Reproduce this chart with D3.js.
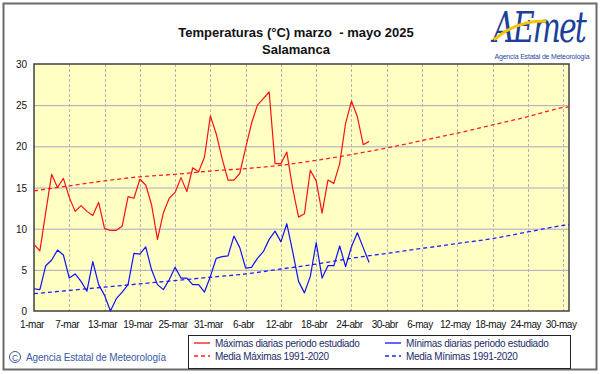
<!DOCTYPE html>
<html>
<head>
<meta charset="utf-8">
<script src="https://cdn.jsdelivr.net/npm/d3@7"></script>
<style>
  body { margin: 0; background: #fff; }
  svg { display: block; font-family: "Liberation Sans", Arial, sans-serif; }
</style>
</head>
<body>
<svg id="vis" width="601" height="374"></svg>
<script>
// daily values from 1-mar (index 0)
const maxDaily = [8.1, 7.3, 12.0, 16.6, 15.0, 16.1, 13.8, 12.1, 12.8, 12.1, 11.6, 13.2, 10.0, 9.8, 9.8, 10.3,
  13.9, 13.7, 16.0, 15.3, 12.9, 8.7, 11.9, 13.7, 14.4, 16.2, 14.5, 17.4, 16.9, 18.7, 23.7, 21.5, 18.5, 15.9,
  15.9, 16.7, 19.8, 22.8, 25.0, 25.8, 26.6, 17.9, 17.9, 19.3, 14.9, 11.4, 11.8, 17.1, 15.8, 11.9, 15.9, 15.5,
  17.9, 22.8, 25.5, 23.6, 20.2, 20.6];
const minDaily = [2.7, 2.6, 5.5, 6.2, 7.4, 6.8, 4.0, 4.5, 3.6, 2.4, 6.0, 3.2, 1.9, 0.0, 1.5, 2.3,
  3.2, 7.0, 6.9, 7.8, 5.0, 3.2, 2.6, 3.8, 5.3, 4.0, 4.0, 3.2, 3.2, 2.3, 4.2, 6.4, 6.6, 6.7,
  9.1, 7.7, 5.2, 5.3, 6.4, 7.2, 8.7, 9.7, 8.4, 10.6, 7.2, 3.6, 2.2, 4.2, 8.3, 4.0, 5.5, 5.5,
  7.9, 5.4, 7.8, 9.5, 7.7, 5.9];

// 1991-2020 normals, read every 6 days (same days as the ticks) plus the last day
const normalDays = [0, 6, 12, 18, 24, 30, 36, 42, 48, 54, 60, 66, 72, 78, 84, 90, 91];
const normalMax = [14.6, 15.2, 15.8, 16.3, 16.6, 17.0, 17.3, 17.7, 18.3, 19.0, 19.8, 20.7, 21.6, 22.6, 23.6, 24.7, 24.8];
const normalMin = [2.1, 2.5, 2.9, 3.3, 3.7, 4.1, 4.5, 5.1, 5.7, 6.4, 7.0, 7.6, 8.2, 8.8, 9.6, 10.4, 10.5];

const tickDays = [0, 6, 12, 18, 24, 30, 36, 42, 48, 54, 60, 66, 72, 78, 84, 90];
const tickLabels = ['1-mar', '7-mar', '13-mar', '19-mar', '25-mar', '31-mar', '6-abr', '12-abr', '18-abr',
  '24-abr', '30-abr', '6-may', '12-may', '18-may', '24-may', '30-may'];
const yTicks = [0, 5, 10, 15, 20, 25, 30];

const vis = d3.select('#vis');

const x = d3.scaleLinear().domain([0, 91]).range([34, 569]);
const y = d3.scaleLinear().domain([0, 30]).range([311, 64]);

// outer frame
vis.append('rect')
  .attr('x', 3.5).attr('y', 3.5).attr('width', 593).attr('height', 366)
  .attr('fill', '#fff').attr('stroke', '#6a6a6a').attr('stroke-width', 2);

// title
vis.append('text')
  .attr('x', 296).attr('y', 37).attr('text-anchor', 'middle')
  .attr('font-size', 13).attr('font-weight', 'bold').attr('fill', '#111')
  .style('white-space', 'pre')
  .text('Temperaturas (°C) marzo  - mayo 2025');
vis.append('text')
  .attr('x', 296).attr('y', 54).attr('text-anchor', 'middle')
  .attr('font-size', 13).attr('font-weight', 'bold').attr('fill', '#111')
  .text('Salamanca');

// logo
const logo = vis.append('g');
logo.append('text')
  .attr('transform', 'translate(493,42) scale(1,1.4)')
  .attr('font-family', '"DejaVu Serif", serif').attr('font-style', 'italic')
  .attr('font-size', 30).attr('fill', '#1d3f9a').attr('letter-spacing', -2)
  .text('AEmet');
logo.append('path')
  .attr('d', 'M495,39 C510,26 528,21 545,21')
  .attr('fill', 'none').attr('stroke', '#f5c400').attr('stroke-width', 3).attr('stroke-linecap', 'round');
logo.append('text')
  .attr('x', 542).attr('y', 59).attr('text-anchor', 'middle')
  .attr('font-size', 7).attr('fill', '#2a4aa0').attr('letter-spacing', -0.2)
  .text('Agencia Estatal de Meteorología');

// plot background
vis.append('rect')
  .attr('x', x(0)).attr('y', y(30)).attr('width', x(91) - x(0)).attr('height', y(0) - y(30))
  .attr('fill', '#ffffc4');

// horizontal grid
vis.selectAll('line.hgrid').data(yTicks.slice(1, -1)).enter()
  .append('line').classed('hgrid', true)
  .attr('x1', x(0)).attr('x2', x(91))
  .attr('y1', d => y(d) + 0.5).attr('y2', d => y(d) + 0.5)
  .attr('stroke', '#a8a8c0').attr('stroke-width', 1);

// vertical grid
vis.selectAll('line.vgrid').data(tickDays.slice(1)).enter()
  .append('line').classed('vgrid', true)
  .attr('x1', d => Math.round(x(d)) + 0.5).attr('x2', d => Math.round(x(d)) + 0.5)
  .attr('y1', y(30)).attr('y2', y(0))
  .attr('stroke', '#b4b4b4').attr('stroke-width', 1).attr('stroke-dasharray', '3,2');

// plot border
vis.append('rect')
  .attr('x', x(0)).attr('y', y(30)).attr('width', x(91) - x(0)).attr('height', y(0) - y(30))
  .attr('fill', 'none').attr('stroke', '#404040').attr('stroke-width', 1.5);

// y labels
vis.selectAll('text.ylab').data(yTicks).enter()
  .append('text').classed('ylab', true)
  .attr('x', 27).attr('y', d => y(d) + 4).attr('text-anchor', 'end')
  .attr('font-size', 10).attr('fill', '#111')
  .text(d => d);

// x labels
vis.selectAll('text.xlab').data(tickDays).enter()
  .append('text').classed('xlab', true)
  .attr('x', d => x(d) - 2).attr('y', 328).attr('text-anchor', 'middle')
  .attr('font-size', 10).attr('letter-spacing', -0.45).attr('fill', '#111')
  .text((d, i) => tickLabels[i]);

const dailyLine = d3.line().x((d, i) => x(i)).y(d => y(d));
const normalLine = d3.line().x((d, i) => x(normalDays[i])).y(d => y(d)).curve(d3.curveMonotoneX);

vis.append('path').datum(normalMax)
  .attr('d', normalLine).attr('fill', 'none')
  .attr('stroke', '#ff2020').attr('stroke-width', 1.3).attr('stroke-dasharray', '4,3');
vis.append('path').datum(normalMin)
  .attr('d', normalLine).attr('fill', 'none')
  .attr('stroke', '#2020ff').attr('stroke-width', 1.3).attr('stroke-dasharray', '4,3');

vis.append('path').datum(maxDaily)
  .attr('d', dailyLine).attr('fill', 'none')
  .attr('stroke', '#ff1010').attr('stroke-width', 1.2).attr('stroke-linejoin', 'round');
vis.append('path').datum(minDaily)
  .attr('d', dailyLine).attr('fill', 'none')
  .attr('stroke', '#1010ff').attr('stroke-width', 1.2).attr('stroke-linejoin', 'round');

// legend
const legend = vis.append('g');
legend.append('rect')
  .attr('x', 188.5).attr('y', 335.5).attr('width', 382).attr('height', 33)
  .attr('fill', '#fff').attr('stroke', '#222').attr('stroke-width', 1);
const legendItems = [
  { label: 'Máximas diarias periodo estudiado', color: '#ff1010', dash: null, lx: 194, ly: 347 },
  { label: 'Mínimas diarias periodo estudiado', color: '#1010ff', dash: null, lx: 385, ly: 347 },
  { label: 'Media Máximas 1991-2020', color: '#ff2020', dash: '4,3', lx: 194, ly: 360 },
  { label: 'Media Mínimas 1991-2020', color: '#2020ff', dash: '4,3', lx: 385, ly: 360 }
];
const li = legend.selectAll('g.item').data(legendItems).enter().append('g').classed('item', true);
li.append('line')
  .attr('x1', d => d.lx).attr('x2', d => d.lx + 16)
  .attr('y1', d => d.ly - 4).attr('y2', d => d.ly - 4)
  .attr('stroke', d => d.color).attr('stroke-width', 1.3)
  .attr('stroke-dasharray', d => d.dash);
li.append('text')
  .attr('x', d => d.lx + 21).attr('y', d => d.ly)
  .attr('font-size', 10).attr('letter-spacing', -0.3).attr('fill', '#1c2c68')
  .text(d => d.label);

// copyright
vis.append('circle').attr('cx', 15).attr('cy', 357).attr('r', 5.5)
  .attr('fill', 'none').attr('stroke', '#3a5aa8').attr('stroke-width', 1);
vis.append('text').attr('x', 15).attr('y', 360.5).attr('text-anchor', 'middle')
  .attr('font-size', 8.5).attr('fill', '#3a5aa8').text('C');
vis.append('text').attr('x', 26).attr('y', 361)
  .attr('font-size', 10).attr('letter-spacing', -0.15).attr('fill', '#3a5aa8')
  .text('Agencia Estatal de Meteorología');
</script>
</body>
</html>
